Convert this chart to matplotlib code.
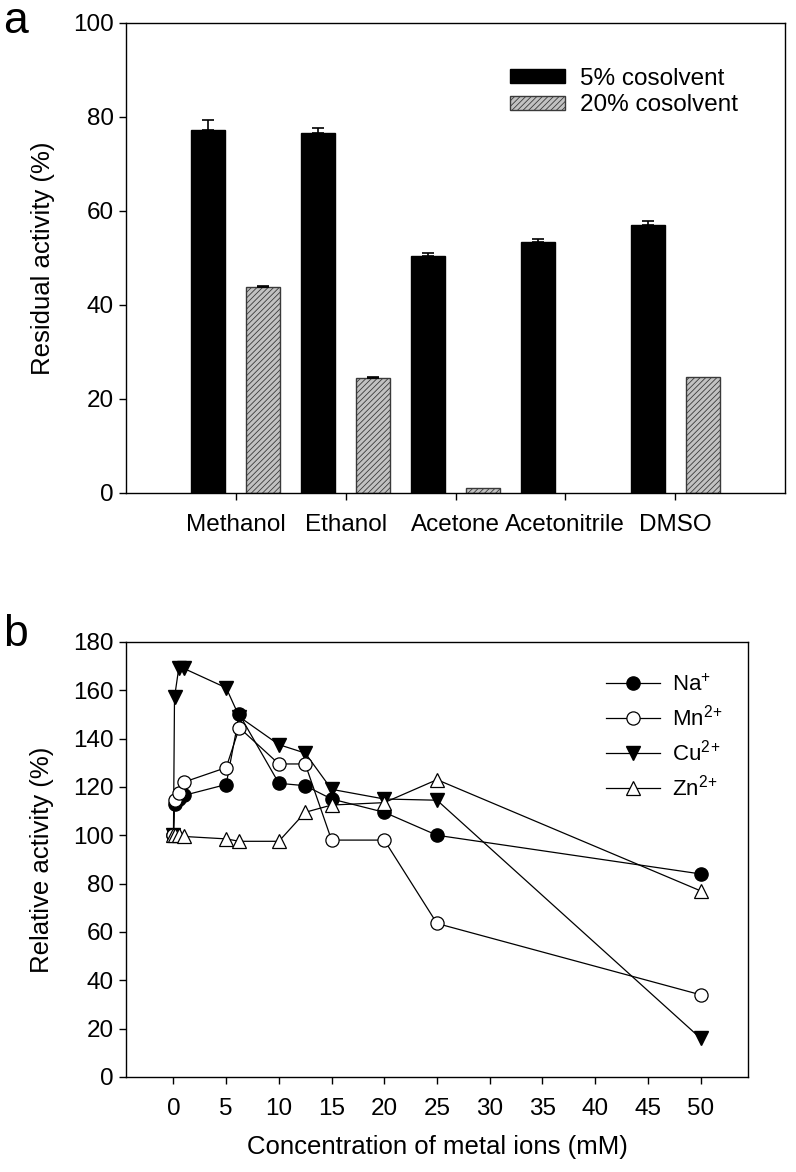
import numpy as np
import matplotlib
matplotlib.use("Agg")
import matplotlib.pyplot as plt

plt.rcParams['font.family'] = ['Liberation Sans', 'DejaVu Sans']
plt.rcParams['mathtext.fontset'] = 'custom'
plt.rcParams['mathtext.rm'] = 'Liberation Sans'
plt.rcParams['mathtext.default'] = 'regular'
plt.rcParams['hatch.color'] = '#a6a6a6'
plt.rcParams['hatch.linewidth'] = 0.6

# panel a: cosolvent tolerance
solvents = ['Methanol', 'Ethanol', 'Acetone', 'Acetonitrile', 'DMSO']
act_5 = [77.2, 76.6, 50.4, 53.4, 57.1]
err_5 = [2.2, 1.1, 0.6, 0.7, 0.7]
act_20 = [43.8, 24.4, 1.0, 0.0, 24.6]
err_20 = [0.3, 0.3, 0.0, 0.0, 0.0]

# panel b: metal ions
conc = [0, 0.1, 0.5, 1, 5, 6.25, 10, 12.5, 15, 20, 25, 50]
na = [100, 113, 115, 116.5, 121, 150, 121.5, 120.5, 115, 109.5, 100, 84]
mn = [100, 114.5, 117.5, 122, 128, 144.5, 129.5, 129.5, 98, 98, 63.5, 34]
cu = [100, 157, 169, 169, 161, 149, 137.5, 134, 119, 115, 114.5, 16]
zn = [100, 100, 100, 99.5, 98.5, 97.5, 97.5, 109.5, 112.5, 113.5, 123, 77]

FS = 17.5      # tick labels
LFS = 18.5     # axis labels

fig = plt.figure(figsize=(7.96, 11.72), dpi=100)

## panel a ##
ax1 = fig.add_axes([0.1583, 0.5794, 0.8279, 0.401])
x = np.arange(len(solvents))
w = 0.31
ax1.bar(x - 0.25, act_5, w, color='black', edgecolor='black', linewidth=1,
        label='5% cosolvent', zorder=2)
ax1.errorbar(x - 0.25, act_5, yerr=[np.zeros(len(x)), err_5], fmt='none',
             ecolor='black', elinewidth=1.2, capsize=4.5, capthick=1.2, zorder=3)
bars20 = ax1.bar(x + 0.25, act_20, w, color='#c2c2c2', edgecolor='#3a3a3a', linewidth=1,
                 hatch='//////', label='20% cosolvent', zorder=2)
# only draw the 20% error bars that are non-zero
keep = [i for i in range(len(x)) if err_20[i] > 0]
ax1.errorbar(x[keep] + 0.25, [act_20[i] for i in keep],
             yerr=[np.zeros(len(keep)), [err_20[i] for i in keep]], fmt='none',
             ecolor='black', elinewidth=1.2, capsize=4.5, capthick=1.2, zorder=3)
# acetonitrile 20% is zero -> no visible bar
for b, v in zip(bars20, act_20):
    if v == 0:
        b.set_visible(False)

ax1.set_xlim(-1, 5)
ax1.set_ylim(0, 100)
ax1.set_xticks(x)
ax1.set_xticklabels(solvents)
ax1.set_yticks(np.arange(0, 101, 20))
ax1.set_ylabel('Residual activity (%)', fontsize=LFS)
ax1.tick_params(axis='x', direction='out', length=5, width=1, pad=10, labelsize=FS)
ax1.tick_params(axis='y', direction='out', length=5, width=1, pad=4, labelsize=FS)
ax1.yaxis.set_label_coords(-0.108, 0.5)
for s in ax1.spines.values():
    s.set_linewidth(1)
ax1.legend(loc='upper left', bbox_to_anchor=(0.582, 0.905), frameon=False,
           fontsize=FS, handlelength=2.3, handleheight=0.55, handletextpad=0.6,
           labelspacing=0.2, borderpad=0, borderaxespad=0)

## panel b ##
ax2 = fig.add_axes([0.1583, 0.0811, 0.7814, 0.3712])
ax2.plot(conc, cu, '-', color='black', lw=0.9, marker='v', ms=10,
         mfc='black', mec='black', label='Cu$^{2}$$^{+}$', zorder=2)
ax2.plot(conc, na, '-', color='black', lw=0.9, marker='o', ms=9.5,
         mfc='black', mec='black', label='Na$^{+}$', zorder=3)
ax2.plot(conc, mn, '-', color='black', lw=0.9, marker='o', ms=9.5,
         mfc='white', mec='black', mew=0.9, label='Mn$^{2}$$^{+}$', zorder=4)
ax2.plot(conc, zn, '-', color='black', lw=0.9, marker='^', ms=10,
         mfc='white', mec='black', mew=0.9, label='Zn$^{2}$$^{+}$', zorder=5)

ax2.set_xlim(-4.5, 54.5)
ax2.set_ylim(0, 180)
ax2.set_xticks(np.arange(0, 51, 5))
ax2.set_yticks(np.arange(0, 181, 20))
ax2.set_xlabel('Concentration of metal ions (mM)', fontsize=LFS, labelpad=11)
ax2.set_ylabel('Relative activity (%)', fontsize=LFS)
ax2.tick_params(axis='x', direction='out', length=5, width=1, pad=10, labelsize=FS)
ax2.tick_params(axis='y', direction='out', length=5, width=1, pad=4, labelsize=FS)
ax2.yaxis.set_label_coords(-0.115, 0.5)
for s in ax2.spines.values():
    s.set_linewidth(1)

handles, labels = ax2.get_legend_handles_labels()
order = [1, 2, 0, 3]  # Na, Mn, Cu, Zn
ax2.legend([handles[i] for i in order], [labels[i] for i in order],
           loc='upper left', bbox_to_anchor=(0.772, 0.925), frameon=False,
           fontsize=16, handlelength=2.4, handletextpad=0.55,
           labelspacing=0.4, borderpad=0, borderaxespad=0)

fig.text(0.004, 0.982, 'a', fontsize=32, va='center', ha='left')
fig.text(0.004, 0.459, 'b', fontsize=32, va='center', ha='left')

plt.savefig('out.png', dpi=100)
